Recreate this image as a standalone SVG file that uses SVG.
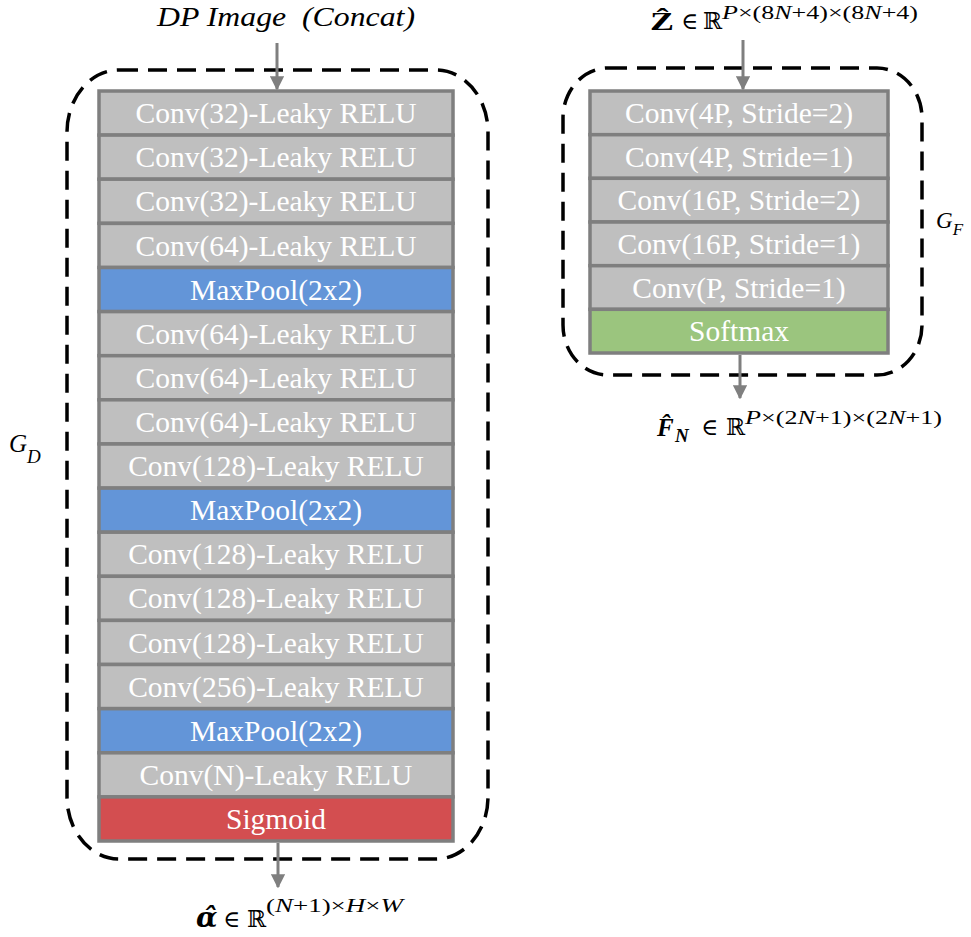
<svg xmlns="http://www.w3.org/2000/svg" width="971" height="937" viewBox="0 0 971 937">
  <style>
    .layer { stroke: #7f7f7f; stroke-width: 3.5; }
    .conv { fill: #bfbfbf; }
    .pool { fill: #6395d8; }
    .sig { fill: #d34e50; }
    .soft { fill: #9bc57e; }
    .lbl { font-family: "Liberation Serif", "Times New Roman", serif; font-size: 29.5px; fill: #ffffff; text-anchor: middle; }
    .group { fill: none; stroke: #000000; stroke-width: 3.5; stroke-dasharray: 19 10; }
    .flow { stroke: #7f7f7f; stroke-width: 3; fill: none; marker-end: url(#head); }
    .math { font-family: "Liberation Serif", "DejaVu Serif", serif; fill: #000000; }
    .it { font-style: italic; }
    .bf { font-weight: bold; }
  </style>
  <defs>
    <marker id="head" viewBox="0 0 10 10" refX="9" refY="5" markerWidth="4.7" markerHeight="4.7" orient="auto" markerUnits="strokeWidth">
      <path d="M0,0 L10,5 L0,10 z" fill="#7f7f7f"/>
    </marker>
  </defs>

  <!-- dashed module boundaries -->
  <g id="module-gd">
    <rect class="group" x="67" y="70" width="421" height="789" rx="52" ry="62"/>
    <text class="math it" x="9" y="452" font-size="25">G<tspan font-size="19" dy="11">D</tspan></text>
  </g>
  <g id="module-gf">
    <rect class="group" x="563" y="68" width="359" height="307" rx="45" ry="50"/>
    <text class="math it" x="936" y="228" font-size="23">G<tspan font-size="17" dy="7">F</tspan></text>
  </g>

  <!-- G_D layer stack -->
  <g id="gd-stack">
    <g id="gd-0"><rect class="layer conv" x="99" y="91" width="354" height="44.1"/><text class="lbl" x="276" y="123.1">Conv(32)-Leaky RELU</text></g>
    <g id="gd-1"><rect class="layer conv" x="99" y="135.1" width="354" height="44.1"/><text class="lbl" x="276" y="167.2">Conv(32)-Leaky RELU</text></g>
    <g id="gd-2"><rect class="layer conv" x="99" y="179.2" width="354" height="44.1"/><text class="lbl" x="276" y="211.3">Conv(32)-Leaky RELU</text></g>
    <g id="gd-3"><rect class="layer conv" x="99" y="223.4" width="354" height="44.1"/><text class="lbl" x="276" y="255.5">Conv(64)-Leaky RELU</text></g>
    <g id="gd-4"><rect class="layer pool" x="99" y="267.5" width="354" height="44.1"/><text class="lbl" x="276" y="299.6">MaxPool(2x2)</text></g>
    <g id="gd-5"><rect class="layer conv" x="99" y="311.6" width="354" height="44.1"/><text class="lbl" x="276" y="343.7">Conv(64)-Leaky RELU</text></g>
    <g id="gd-6"><rect class="layer conv" x="99" y="355.7" width="354" height="44.1"/><text class="lbl" x="276" y="387.8">Conv(64)-Leaky RELU</text></g>
    <g id="gd-7"><rect class="layer conv" x="99" y="399.8" width="354" height="44.1"/><text class="lbl" x="276" y="431.9">Conv(64)-Leaky RELU</text></g>
    <g id="gd-8"><rect class="layer conv" x="99" y="444" width="354" height="44.1"/><text class="lbl" x="276" y="476.1">Conv(128)-Leaky RELU</text></g>
    <g id="gd-9"><rect class="layer pool" x="99" y="488.1" width="354" height="44.1"/><text class="lbl" x="276" y="520.2">MaxPool(2x2)</text></g>
    <g id="gd-10"><rect class="layer conv" x="99" y="532.2" width="354" height="44.1"/><text class="lbl" x="276" y="564.3">Conv(128)-Leaky RELU</text></g>
    <g id="gd-11"><rect class="layer conv" x="99" y="576.3" width="354" height="44.1"/><text class="lbl" x="276" y="608.4">Conv(128)-Leaky RELU</text></g>
    <g id="gd-12"><rect class="layer conv" x="99" y="620.4" width="354" height="44.1"/><text class="lbl" x="276" y="652.5">Conv(128)-Leaky RELU</text></g>
    <g id="gd-13"><rect class="layer conv" x="99" y="664.5" width="354" height="44.1"/><text class="lbl" x="276" y="696.6">Conv(256)-Leaky RELU</text></g>
    <g id="gd-14"><rect class="layer pool" x="99" y="708.7" width="354" height="44.1"/><text class="lbl" x="276" y="740.8">MaxPool(2x2)</text></g>
    <g id="gd-15"><rect class="layer conv" x="99" y="752.8" width="354" height="44.1"/><text class="lbl" x="276" y="784.9">Conv(N)-Leaky RELU</text></g>
    <g id="gd-16"><rect class="layer sig" x="99" y="796.9" width="354" height="44.1"/><text class="lbl" x="276" y="829">Sigmoid</text></g>
  </g>

  <!-- G_F layer stack -->
  <g id="gf-stack">
    <g id="gf-0"><rect class="layer conv" x="590" y="91" width="298" height="43.7"/><text class="lbl" x="739" y="122.8">Conv(4P, Stride=2)</text></g>
    <g id="gf-1"><rect class="layer conv" x="590" y="134.7" width="298" height="43.7"/><text class="lbl" x="739" y="166.5">Conv(4P, Stride=1)</text></g>
    <g id="gf-2"><rect class="layer conv" x="590" y="178.3" width="298" height="43.7"/><text class="lbl" x="739" y="210.2">Conv(16P, Stride=2)</text></g>
    <g id="gf-3"><rect class="layer conv" x="590" y="222" width="298" height="43.7"/><text class="lbl" x="739" y="253.8">Conv(16P, Stride=1)</text></g>
    <g id="gf-4"><rect class="layer conv" x="590" y="265.7" width="298" height="43.7"/><text class="lbl" x="739" y="297.5">Conv(P, Stride=1)</text></g>
    <g id="gf-5"><rect class="layer soft" x="590" y="309.3" width="298" height="43.7"/><text class="lbl" x="739" y="341.2">Softmax</text></g>
  </g>

  <!-- input / output labels -->
  <g id="in-dp">
    <text class="math it" x="157" y="26" font-size="27" xml:space="preserve" textLength="258" lengthAdjust="spacingAndGlyphs">DP Image  (Concat)</text>
  </g>
  <g id="in-z">
    <text class="math bf" x="650" y="30" font-size="25" textLength="24" lengthAdjust="spacingAndGlyphs">Ẑ</text>
    <text class="math" x="681" y="29" font-size="23">∈</text>
    <text class="math" x="703" y="29" font-size="23">ℝ</text>
    <text class="math" x="722" y="19" font-size="18.5" textLength="196" lengthAdjust="spacingAndGlyphs"><tspan class="it">P</tspan>×(8<tspan class="it">N</tspan>+4)×(8<tspan class="it">N</tspan>+4)</text>
  </g>
  <g id="out-alpha">
    <text x="196" y="927" font-family="DejaVu Serif, serif" font-size="28" font-weight="bold" font-style="italic" fill="#000000">α̂</text>
    <text class="math" x="223" y="927" font-size="23">∈</text>
    <text class="math" x="247" y="927" font-size="23">ℝ</text>
    <text class="math" x="266" y="912" font-size="18.5" textLength="137" lengthAdjust="spacingAndGlyphs">(<tspan class="it">N</tspan>+1)×<tspan class="it">H</tspan>×<tspan class="it">W</tspan></text>
  </g>
  <g id="out-f">
    <text class="math bf it" x="657" y="436" font-size="25">F̂</text>
    <text class="math bf it" x="675" y="442" font-size="19">N</text>
    <text class="math" x="701" y="435" font-size="23">∈</text>
    <text class="math" x="726" y="435" font-size="23">ℝ</text>
    <text class="math" x="745" y="424" font-size="18.5" textLength="197" lengthAdjust="spacingAndGlyphs"><tspan class="it">P</tspan>×(2<tspan class="it">N</tspan>+1)×(2<tspan class="it">N</tspan>+1)</text>
  </g>

  <!-- connectors -->
  <g id="connectors">
    <line class="flow" x1="277" y1="43" x2="277" y2="89"/>
    <line class="flow" x1="278" y1="843" x2="278" y2="887"/>
    <line class="flow" x1="743" y1="40" x2="743" y2="89"/>
    <line class="flow" x1="740" y1="355" x2="740" y2="398"/>
  </g>
</svg>
